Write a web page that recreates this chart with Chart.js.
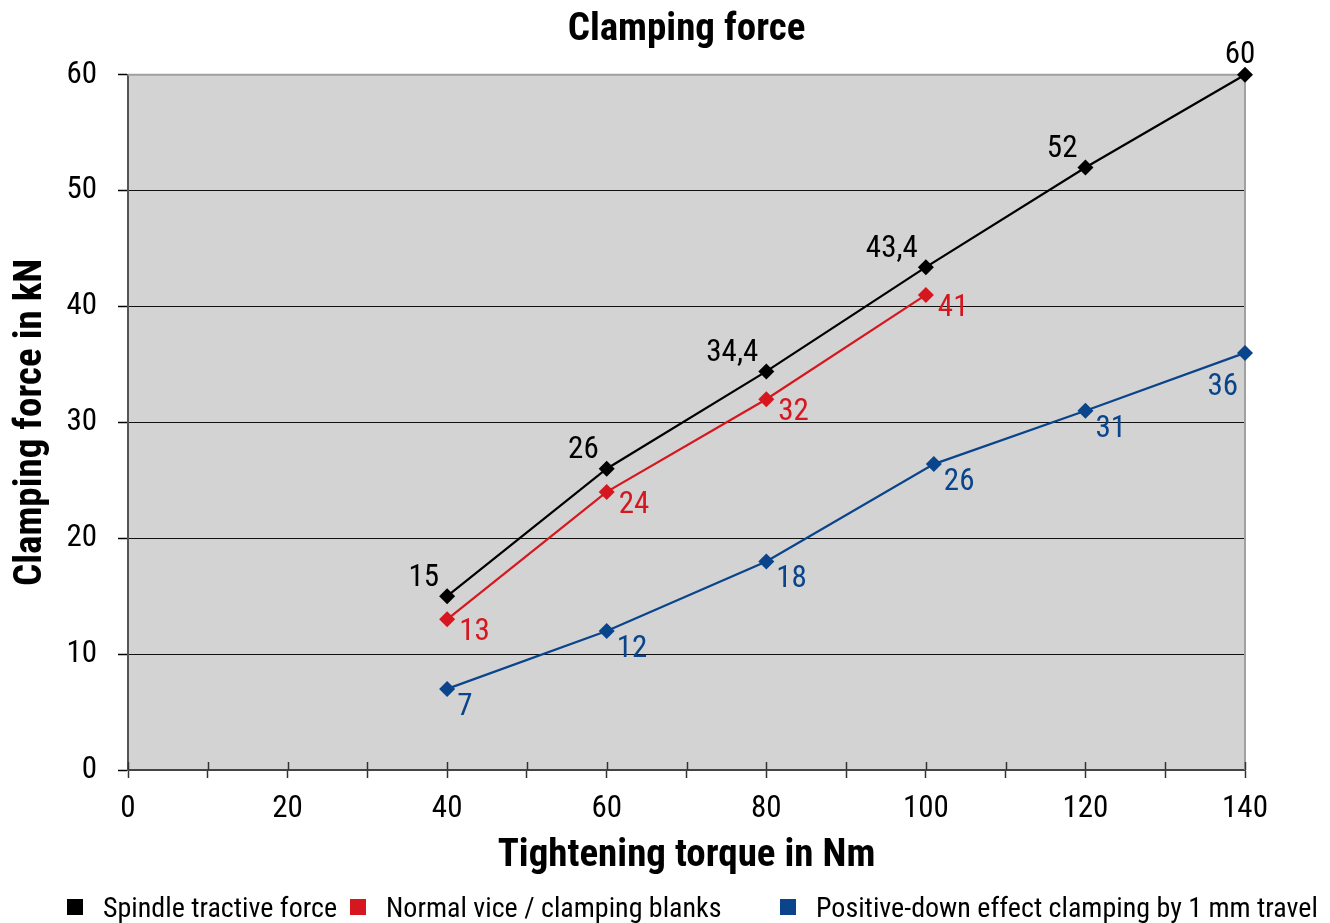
<!DOCTYPE html>
<html>
<head>
<meta charset="utf-8">
<script src="https://cdn.jsdelivr.net/npm/chart.js@4.4.1/dist/chart.umd.min.js"></script>
<style>
html,body{margin:0;padding:0;background:#fff;}
#wrap{position:relative;width:1330px;height:923px;overflow:hidden;}
#legend{position:absolute;left:67px;top:892px;height:30px;display:flex;align-items:center;
  font-family:'Roboto Condensed','DejaVu Sans Condensed',sans-serif;font-size:28px;color:#000;white-space:nowrap;}
.item{display:flex;align-items:center;}
.box{width:16px;height:16px;margin-right:20px;flex:none;}
</style>
</head>
<body>
<div id="wrap">
<canvas id="c" width="1330" height="923"></canvas>
<div id="legend"></div>
</div>
<script>
// ---- data ----
const seriesNames = ['Spindle tractive force', 'Normal vice / clamping blanks', 'Positive-down effect clamping by 1 mm travel'];
const seriesColors = ['#000000', '#d7171f', '#0a448b'];

const spindleTorque = [40, 60, 80, 100, 120, 140];
const spindleForce  = [15, 26, 34.4, 43.4, 52, 60];
const spindleLabels = ['15', '26', '34,4', '43,4', '52', '60'];

const viceTorque = [40, 60, 80, 100];
const viceForce  = [13, 24, 32, 41];
const viceLabels = ['13', '24', '32', '41'];

const positiveTorque = [40, 60, 80, 101, 120, 140];
const positiveForce  = [7, 12, 18, 26.4, 31, 36];
const positiveLabels = ['7', '12', '18', '26', '31', '36'];

const FONT = "'Roboto Condensed','DejaVu Sans Condensed',sans-serif";
Chart.defaults.font.family = FONT;
Chart.defaults.color = '#000';

function pts(xs, ys){ return xs.map((x,i)=>({x:x, y:ys[i]})); }

const bgPlugin = {
  id:'plotBg',
  beforeDraw(chart){
    const {ctx, chartArea:a} = chart;
    ctx.save();
    ctx.fillStyle = '#d3d3d3';
    ctx.fillRect(a.left, a.top, a.right-a.left, a.bottom-a.top);
    ctx.restore();
  },
  beforeDatasetsDraw(chart){
    const {ctx, chartArea:a, scales} = chart;
    ctx.save();
    ctx.strokeStyle = '#a0a0a0';
    ctx.lineWidth = 2;
    ctx.beginPath();
    ctx.moveTo(a.left, a.top); ctx.lineTo(a.right, a.top); ctx.lineTo(a.right, a.bottom);
    ctx.stroke();
    ctx.strokeStyle = '#333';
    ctx.lineWidth = 1.5;
    scales.x.ticks.forEach(t=>{
      const x = Math.round(scales.x.getPixelForValue(t.value)) + 0.5;
      ctx.beginPath(); ctx.moveTo(x, a.bottom - 8); ctx.lineTo(x, a.bottom); ctx.stroke();
    });
    ctx.restore();
  }
};

const labelPlugin = {
  id:'pointLabels',
  afterDatasetsDraw(chart){
    const {ctx, chartArea} = chart;
    chart.data.datasets.forEach((ds, di)=>{
      const meta = chart.getDatasetMeta(di);
      const st = ds.labelStyle;
      ctx.save();
      ctx.font = '31px ' + FONT;
      ctx.fillStyle = ds.borderColor;
      ctx.textBaseline = 'middle';
      meta.data.forEach((p, i)=>{
        const o = (p.x > chartArea.right - 5) ? st.edge : st.normal;
        ctx.textAlign = o.align;
        ctx.fillText(ds.pointLabels[i], p.x + o.dx, p.y + o.dy);
      });
      ctx.restore();
    });
  }
};

function ds(i, xs, ys, labels, labelStyle){
  return {
    label: seriesNames[i],
    data: pts(xs, ys),
    pointLabels: labels,
    labelStyle: labelStyle,
    borderColor: seriesColors[i],
    backgroundColor: seriesColors[i],
    borderWidth: 2.2,
    pointStyle: 'rectRot',
    pointRadius: 8,
    pointBorderWidth: 0,
    pointBackgroundColor: seriesColors[i],
    tension: 0,
    clip: false
  };
}

new Chart(document.getElementById('c'), {
  type: 'line',
  data: {
    datasets: [
      ds(0, spindleTorque, spindleForce, spindleLabels,
         {normal:{align:'right', dx:-8, dy:-18}, edge:{align:'center', dx:-5, dy:-20}}),
      ds(1, viceTorque, viceForce, viceLabels,
         {normal:{align:'left', dx:12, dy:13}, edge:{align:'left', dx:12, dy:13}}),
      ds(2, positiveTorque, positiveForce, positiveLabels,
         {normal:{align:'left', dx:10, dy:18}, edge:{align:'right', dx:-7, dy:34}})
    ]
  },
  options: {
    responsive: false,
    animation: false,
    devicePixelRatio: 1,
    layout: {padding: {left: 0, right: 85, top: 0, bottom: 43}},
    plugins: {
      legend: {display: false},
      tooltip: {enabled: false},
      title: {display: true, text: 'Clamping force', fullSize: false, color: '#000',
              font: {size: 39, weight: 'bold'}, padding: {top: 7, bottom: 21}}
    },
    scales: {
      x: {
        type: 'linear', min: 0, max: 140,
        ticks: {stepSize: 10, autoSkip: false, maxRotation: 0, padding: 13, font: {size: 31}, color: '#000',
                callback: v => (v % 20 === 0 ? String(v) : '')},
        grid: {drawOnChartArea: false, drawTicks: true, tickLength: 8, tickColor: '#333', tickWidth: 1.5},
        border: {color: '#444', width: 2},
        title: {display: true, text: 'Tightening torque in Nm', color: '#000',
                font: {size: 39, weight: 'bold'}, padding: {top: 4, bottom: 0}},
        afterFit: s => { s.height = 110; }
      },
      y: {
        type: 'linear', min: 0, max: 60,
        ticks: {stepSize: 10, padding: 21, font: {size: 31}, color: '#000'},
        grid: {color: c => (c.tick && (c.tick.value === 60 || c.tick.value === 0)) ? 'rgba(0,0,0,0)' : '#111',
               lineWidth: 1, tickLength: 10, tickColor: '#000', tickWidth: 1.5},
        border: {color: '#555', width: 2},
        title: {display: true, text: 'Clamping force in kN', color: '#000',
                font: {size: 39, weight: 'bold'}, padding: {top: 8, bottom: 0}},
        afterFit: s => { s.width = 128; }
      }
    }
  },
  plugins: [bgPlugin, labelPlugin]
});

// HTML legend built from the series arrays
const legendWidths = ['283px', '430px', 'auto'];
const lg = document.getElementById('legend');
seriesNames.forEach((name, i)=>{
  const it = document.createElement('div');
  it.className = 'item';
  it.style.width = legendWidths[i];
  const b = document.createElement('span');
  b.className = 'box';
  b.style.background = seriesColors[i];
  const t = document.createElement('span');
  t.textContent = name;
  it.appendChild(b); it.appendChild(t);
  lg.appendChild(it);
});
</script>
</body>
</html>
